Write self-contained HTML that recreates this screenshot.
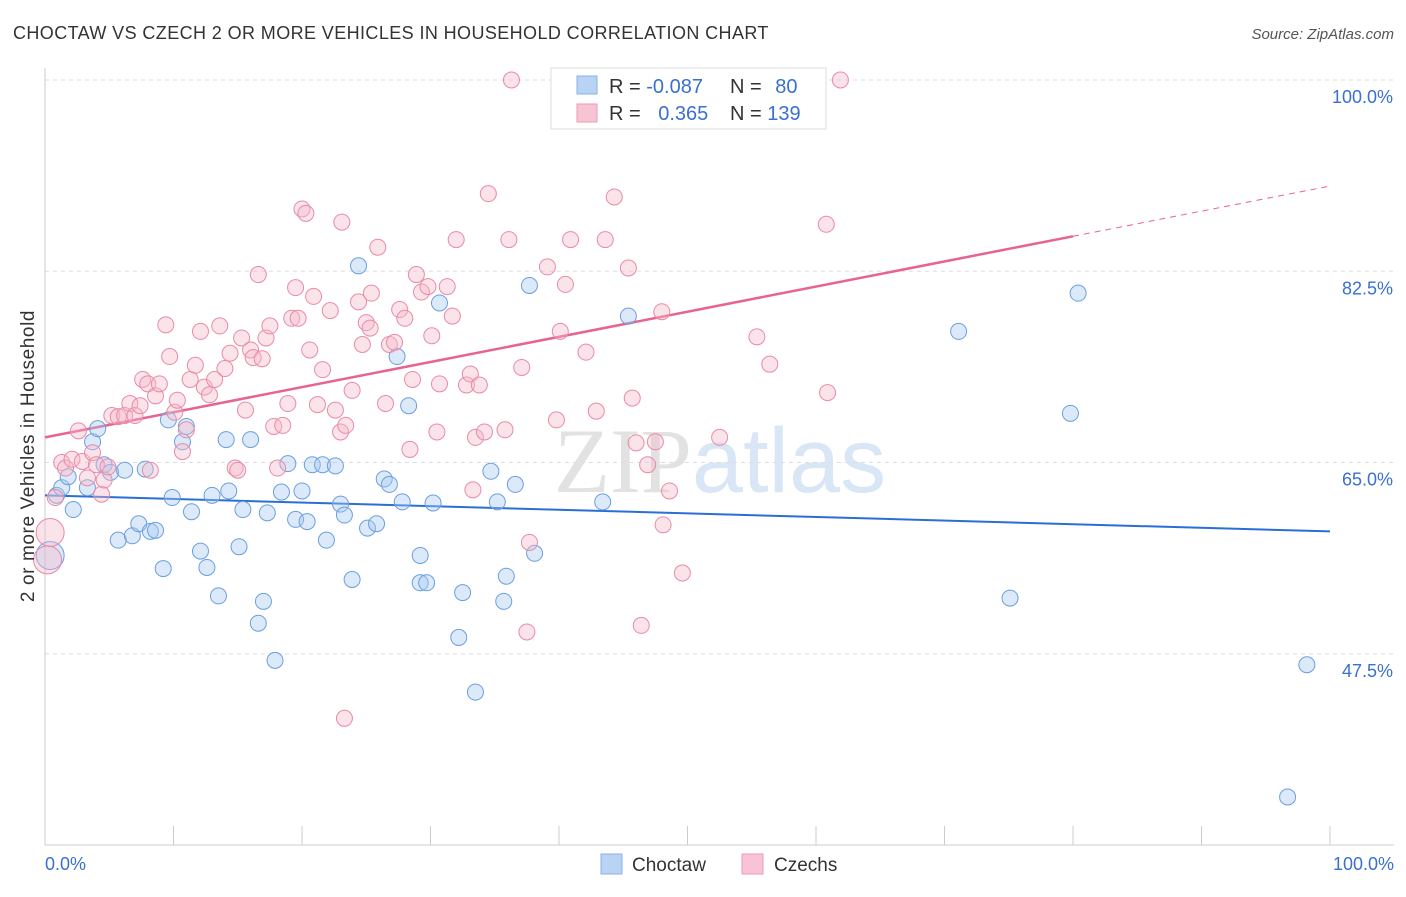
<!DOCTYPE html>
<html><head><meta charset="utf-8"><style>
body{margin:0;background:#fff;font-family:"Liberation Sans",sans-serif;}
svg text{font-family:"Liberation Sans",sans-serif;}
</style></head><body>
<svg id="chart" width="1406" height="892" xmlns="http://www.w3.org/2000/svg">
<text x="13" y="39" font-size="18" fill="#333" letter-spacing="0.4">CHOCTAW VS CZECH 2 OR MORE VEHICLES IN HOUSEHOLD CORRELATION CHART</text>
<text x="1394" y="39" font-size="15" fill="#555" text-anchor="end" font-style="italic">Source: ZipAtlas.com</text>
<text x="720" y="492" font-size="92" text-anchor="middle" fill="#ddd" opacity="0.7"><tspan font-family="Liberation Serif" fill="#d6d6d6">ZIP</tspan><tspan fill="#c9dcf2">atlas</tspan></text>
<g id="grid"></g><g id="axes"></g><g id="lines"></g><g id="pts"></g>
<g>
<rect x="551" y="68" width="275" height="61" fill="#fff" stroke="#ddd"/>
<rect x="577" y="76" width="20" height="18" fill="#b9d3f5" stroke="#8ab2e8"/>
<rect x="577" y="104" width="20" height="18" fill="#f8c4d4" stroke="#ee9ab4"/>
<text x="609" y="93" font-size="20" fill="#333">R = <tspan fill="#3a70d0">-0.087</tspan></text>
<text x="730" y="93" font-size="20" fill="#333">N = <tspan fill="#3a70d0" dx="8">80</tspan></text>
<text x="609" y="120" font-size="20" fill="#333">R = <tspan fill="#3a70d0" dx="12">0.365</tspan></text>
<text x="730" y="120" font-size="20" fill="#333">N = <tspan fill="#3a70d0">139</tspan></text>
</g>
<g>
<rect x="601" y="854" width="21" height="20" fill="#b9d3f5" stroke="#8ab2e8"/>
<text x="632" y="871" font-size="19" fill="#333">Choctaw</text>
<rect x="742" y="854" width="21" height="20" fill="#f8c4d4" stroke="#ee9ab4"/>
<text x="774" y="871" font-size="19" fill="#333">Czechs</text>
</g>
<text transform="translate(34,456) rotate(-90)" font-size="19" letter-spacing="0.6" fill="#333" text-anchor="middle">2 or more Vehicles in Household</text>
</svg>
<script>
const yTicks=[100,82.5,65,47.5];
const yTickLabels=["100.0%","82.5%","65.0%","47.5%"];
const xTicks=[0,10,20,30,40,50,60,70,80,90,100];
const blueX=[0.4,0.9,1.3,1.8,2.2,3.3,3.7,4.1,4.6,5.1,5.7,6.2,6.8,7.3,7.8,8.2,8.6,9.2,9.6,9.9,10.7,11.0,11.4,12.1,12.6,13.0,13.5,14.1,14.3,15.1,15.4,16.0,16.6,17.0,17.3,17.9,18.4,18.9,19.5,20.0,20.4,20.8,21.6,21.9,22.6,23.0,23.3,23.9,24.4,25.1,25.8,26.4,26.8,27.4,27.8,28.3,29.2,29.2,29.7,30.2,30.7,32.2,32.5,33.5,34.7,35.2,35.9,35.7,36.6,37.7,38.1,43.4,45.4,71.1,75.1,79.8,80.4,98.2,96.7];
const blueY=[56.5,62.0,62.7,63.7,60.7,62.7,66.9,68.1,64.8,64.1,57.9,64.3,58.3,59.4,64.4,58.7,58.8,55.3,68.9,61.8,66.9,68.3,60.5,56.9,55.4,62.0,52.8,67.1,62.4,57.3,60.7,67.1,50.3,52.3,60.4,46.9,62.3,64.9,59.8,62.4,59.6,64.8,64.8,57.9,64.7,61.2,60.2,54.3,83.0,59.0,59.4,63.5,63.0,74.7,61.4,70.2,56.5,54.0,54.0,61.3,79.6,49.0,53.1,44.0,64.2,61.4,54.6,52.3,63.0,81.2,56.7,61.4,78.4,77.0,52.6,69.5,80.5,46.5,34.4];
const pinkX=[0.2,0.4,0.8,1.3,1.6,2.1,2.6,2.9,3.3,3.7,4.0,4.4,4.6,4.9,5.2,5.7,6.2,6.6,7.0,7.4,7.6,8.0,8.2,8.6,8.9,9.4,9.7,10.1,10.3,10.7,11.0,11.3,11.7,12.1,12.4,12.8,13.2,13.6,14.0,14.4,14.8,15.0,15.3,15.6,16.0,16.2,16.6,16.9,17.2,17.5,17.8,18.1,18.5,18.9,19.2,19.5,19.7,20.0,20.3,20.6,20.9,21.2,21.6,22.2,22.6,23.0,23.1,23.4,23.9,24.4,24.7,25.0,25.3,25.4,25.9,26.5,26.8,27.2,27.6,28.0,28.4,28.6,28.9,29.3,29.8,30.1,30.5,30.7,31.3,31.7,32.0,32.8,33.1,33.5,33.8,34.2,34.5,35.8,36.1,36.3,37.1,37.7,37.5,39.1,39.8,40.1,40.5,40.9,41.2,42.1,42.9,43.6,44.3,45.4,45.7,46.0,46.4,46.9,47.5,48.1,48.0,48.6,49.6,52.5,55.4,56.4,60.8,60.9,61.9,55.8,23.3,33.3];
const pinkY=[56.1,58.6,61.8,65.0,64.5,65.3,67.9,65.1,63.6,65.9,64.8,62.1,63.4,64.6,69.3,69.2,69.3,70.4,69.3,70.2,72.6,72.2,64.3,71.1,72.2,77.6,74.7,69.6,70.7,66.0,68.0,72.6,73.9,77.0,71.9,71.2,72.6,77.5,73.6,75.0,64.5,64.3,76.4,69.8,75.3,74.6,82.2,74.5,76.4,77.5,68.3,64.5,68.4,70.4,78.2,81.0,78.2,88.2,87.8,75.3,80.2,70.3,73.5,78.9,69.8,67.8,87.0,68.4,71.6,79.7,75.8,77.8,77.3,80.5,84.7,70.4,75.8,76.0,79.0,78.2,66.2,72.6,82.2,80.6,81.1,76.6,67.8,72.2,81.1,78.4,85.4,72.1,73.1,67.3,72.1,67.8,89.6,68.0,85.4,100,73.7,57.7,49.5,82.9,68.9,77.0,81.3,85.4,100,75.1,69.7,85.4,89.3,82.8,70.9,66.8,50.1,64.8,66.9,59.3,78.8,62.4,54.9,67.3,76.5,74.0,86.8,71.4,100,100,41.6,62.5];
const bigPink=[0,1];const bigBlue=[0];
const blueLine=[62.0,58.7];
const pinkLine=[67.3,90.3];
const pinkSolidEnd=80;
const NS="http://www.w3.org/2000/svg";
const X=v=>45+v*12.85, Y=v=>80+(100-v)*10.93;
function mk(t,a,p){const e=document.createElementNS(NS,t);for(const k in a)e.setAttribute(k,a[k]);document.getElementById(p).appendChild(e);return e;}
yTicks.forEach((t,i)=>{
 const l=mk('line',{x1:45,x2:1394,y1:Y(t),y2:Y(t),stroke:'#ddd','stroke-dasharray':'4,4'},'grid');
 
 
 const tx=mk('text',{x:1393,y:Y(t)+23,'font-size':18,fill:'#3a70d0','text-anchor':'end'},'axes');
 tx.textContent=yTickLabels[i];
 
 
});
const ax=mk('line',{x1:45,x2:45,y1:68,y2:845,stroke:'#ccc'},'axes');


const bx=mk('line',{x1:45,x2:1394,y1:845,y2:845,stroke:'#ccc'},'axes');


xTicks.forEach(t=>{const l=mk('line',{x1:X(t),x2:X(t),y1:826,y2:845,stroke:'#ccc'},'axes');
 
 });
[[0,"0.0%","start",45],[100,"100.0%","end",1394]].forEach(d=>{const t=mk('text',{x:d[3],y:870,'font-size':18,fill:'#3a70d0','text-anchor':d[2]},'axes');t.textContent=d[1];
 
 });
function dot(x,y,big,c){const e=mk('circle',{cx:X(x),cy:Y(y),r:big?14:8,fill:c[0],'fill-opacity':0.4,stroke:c[1],'stroke-width':1},'pts');return e;}
blueX.forEach((x,i)=>{const e=dot(x,blueY[i],bigBlue.includes(i),['#a8c8f0','#6a9fe0']);
 
 });
pinkX.forEach((x,i)=>{const e=dot(x,pinkY[i],bigPink.includes(i),['#f5b8cb','#e98aa8']);
 
 });
const bl=mk('line',{x1:X(0),y1:Y(blueLine[0]),x2:X(100),y2:Y(blueLine[1]),stroke:'#2a6fd6','stroke-width':2},'lines');


const pm=pinkLine[0]+(pinkLine[1]-pinkLine[0])*pinkSolidEnd/100;
const pl=mk('line',{x1:X(0),y1:Y(pinkLine[0]),x2:X(pinkSolidEnd),y2:Y(pm),stroke:'#e8638f','stroke-width':2.5},'lines');


const pd=mk('line',{x1:X(pinkSolidEnd),y1:Y(pm),x2:X(100),y2:Y(pinkLine[1]),stroke:'#e8638f','stroke-width':1,'stroke-dasharray':'6,5'},'lines');


</script>
</body></html>
